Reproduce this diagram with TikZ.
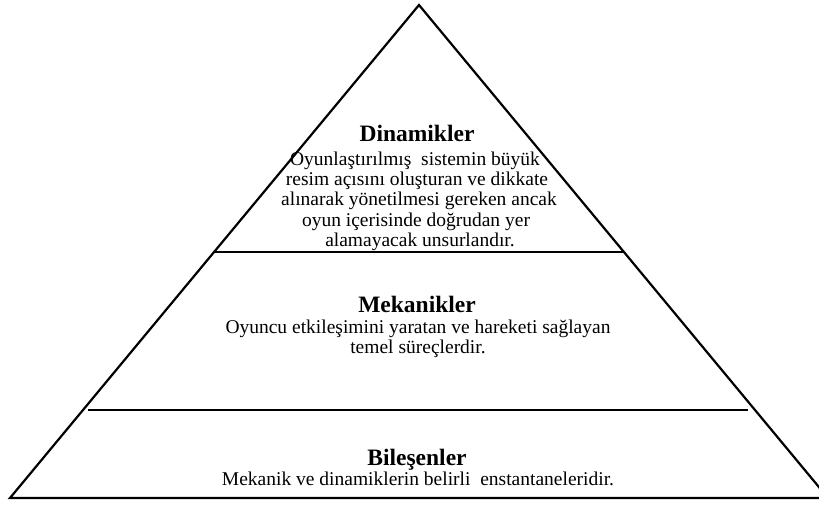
\documentclass[tikz,border=0pt]{standalone}
\usepackage{fontspec}
\setmainfont{Liberation Serif}
\begin{document}
\begin{tikzpicture}[x=1pt,y=-1pt,
  outline/.style={line width=2.2pt,line join=miter},
  divider/.style={line width=1.3pt},
  heading/.style={anchor=base,inner sep=0pt,font=\fontsize{23.5}{25}\selectfont\bfseries},
  bodyline/.style={anchor=base,inner sep=0pt,font=\fontsize{19.5}{20}\selectfont}]
\useasboundingbox (0,0) rectangle (819,505);
\clip (0,0) rectangle (819,505);
\fill[white] (0,0) rectangle (819,505);
\coordinate (apex) at (419,5);
\coordinate (bl) at (10,498);
\coordinate (br) at (828,498);
\draw[outline] (bl) -- (apex) -- (br) -- cycle;
\coordinate (d1l) at (213,252);
\coordinate (d1r) at (624,252);
\coordinate (d2l) at (88,410);
\coordinate (d2r) at (748,410);
\draw[divider] (d1l) -- (d1r);
\draw[divider] (d2l) -- (d2r);
% Dinamikler
\node[heading] (h1) at (417,142) {Dinamikler};
\node[bodyline] (t11) at (415,166) {Oyunlaştırılmış\ \ sistemin büyük};
\node[bodyline] (t12) at (417,186) {resim açısını oluşturan ve dikkate};
\node[bodyline] (t13) at (419,206) {alınarak yönetilmesi gereken ancak};
\node[bodyline] (t14) at (416,226) {oyun içerisinde doğrudan yer};
\node[bodyline] (t15) at (420,246) {alamayacak unsurlandır.};
% Mekanikler
\node[heading] (h2) at (417,312) {Mekanikler};
\node[bodyline] (t21) at (418,333) {Oyuncu etkileşimini yaratan ve hareketi sağlayan};
\node[bodyline] (t22) at (418,353) {temel süreçlerdir.};
% Bilesenler
\node[heading] (h3) at (417,465) {Bileşenler};
\node[bodyline] (t31) at (418,485) {Mekanik ve dinamiklerin belirli\ \ enstantaneleridir.};
\end{tikzpicture}
\end{document}
